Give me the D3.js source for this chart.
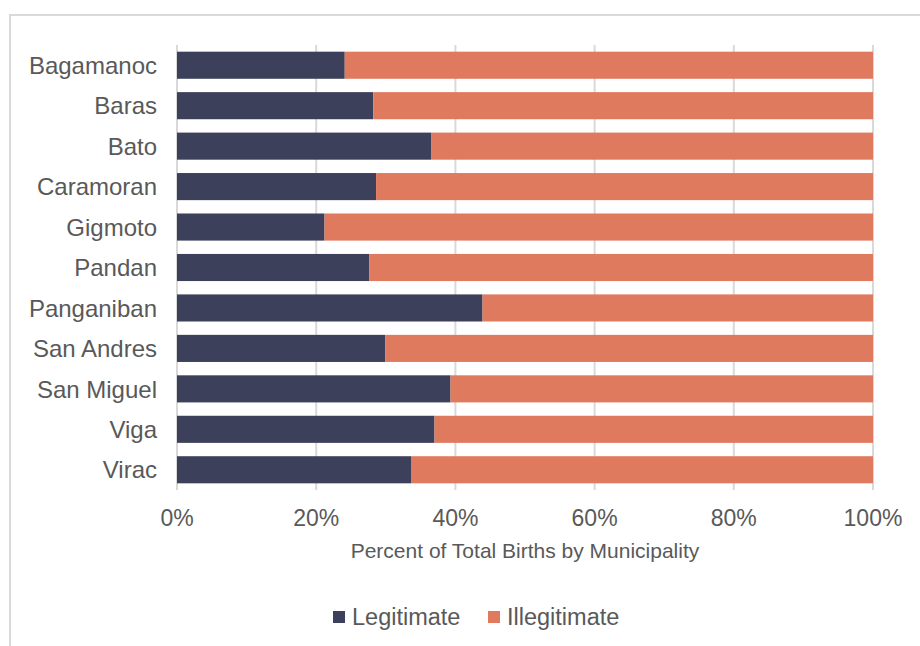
<!DOCTYPE html>
<html><head><meta charset="utf-8">
<script src="https://cdn.jsdelivr.net/npm/d3@7"></script>
<style>body{margin:0;background:#fff;}svg{display:block;font-family:"Liberation Sans",Arial,sans-serif;}</style>
</head><body><svg id="c" width="920" height="646"></svg>
<script>
const municipalities = ["Bagamanoc","Baras","Bato","Caramoran","Gigmoto","Pandan","Panganiban","San Andres","San Miguel","Viga","Virac"];
const legitimate = [24.1,28.2,36.5,28.6,21.2,27.6,43.9,29.9,39.3,37.0,33.7];
const illegitimate = legitimate.map(v => +(100 - v).toFixed(1));
const seriesNames = ["Legitimate","Illegitimate"];
const seriesColors = ["#3d405b","#e07a5f"];
const xTicks = [0,20,40,60,80,100];
const axisTitle = "Percent of Total Births by Municipality";

const svg = d3.select("#c");
svg.append("rect").attr("x",10).attr("y",15).attr("width",930).attr("height",660)
  .attr("fill","none").attr("stroke","#d9d9d9").attr("stroke-width",2);

const x = d3.scaleLinear().domain([0,100]).range([177,873]);
const y = d3.scaleBand().domain(municipalities).range([45,490]).paddingInner(0.33).paddingOuter(0.165);

// gridlines
svg.append("g").selectAll("line").data(xTicks).join("line")
  .attr("x1",d=>x(d)).attr("x2",d=>x(d)).attr("y1",45).attr("y2",490)
  .attr("stroke","#d9d9d9").attr("stroke-width",2);

const rows = municipalities.map((m,i)=>({m, vals:[legitimate[i], illegitimate[i]]}));
const g = svg.append("g");
rows.forEach(r=>{
  let acc = 0;
  r.vals.forEach((v,j)=>{
    g.append("rect").attr("x",x(acc)).attr("width",x(acc+v)-x(acc))
      .attr("y",y(r.m)).attr("height",y.bandwidth())
      .attr("fill",seriesColors[j]);
    acc += v;
  });
});

// y labels
svg.append("g").selectAll("text").data(municipalities).join("text")
  .attr("x",157).attr("y",d=>y(d)+y.bandwidth()/2).attr("dy","0.36em")
  .attr("text-anchor","end").attr("font-size",24).attr("fill","#595959").text(d=>d);

// x tick labels
svg.append("g").selectAll("text").data(xTicks).join("text")
  .attr("x",d=>x(d)).attr("y",526).attr("text-anchor","middle")
  .attr("font-size",23).attr("fill","#595959").text(d=>d+"%");

svg.append("text").attr("x",525).attr("y",558).attr("text-anchor","middle")
  .attr("font-size",21).attr("fill","#595959").text(axisTitle);

// legend
const legX = [333,488];
seriesNames.forEach((s,i)=>{
  svg.append("rect").attr("x",legX[i]).attr("y",611).attr("width",12).attr("height",12).attr("fill",seriesColors[i]);
  svg.append("text").attr("x",legX[i]+19).attr("y",625).attr("font-size",23.5).attr("fill","#595959").text(s);
});
</script></body></html>
